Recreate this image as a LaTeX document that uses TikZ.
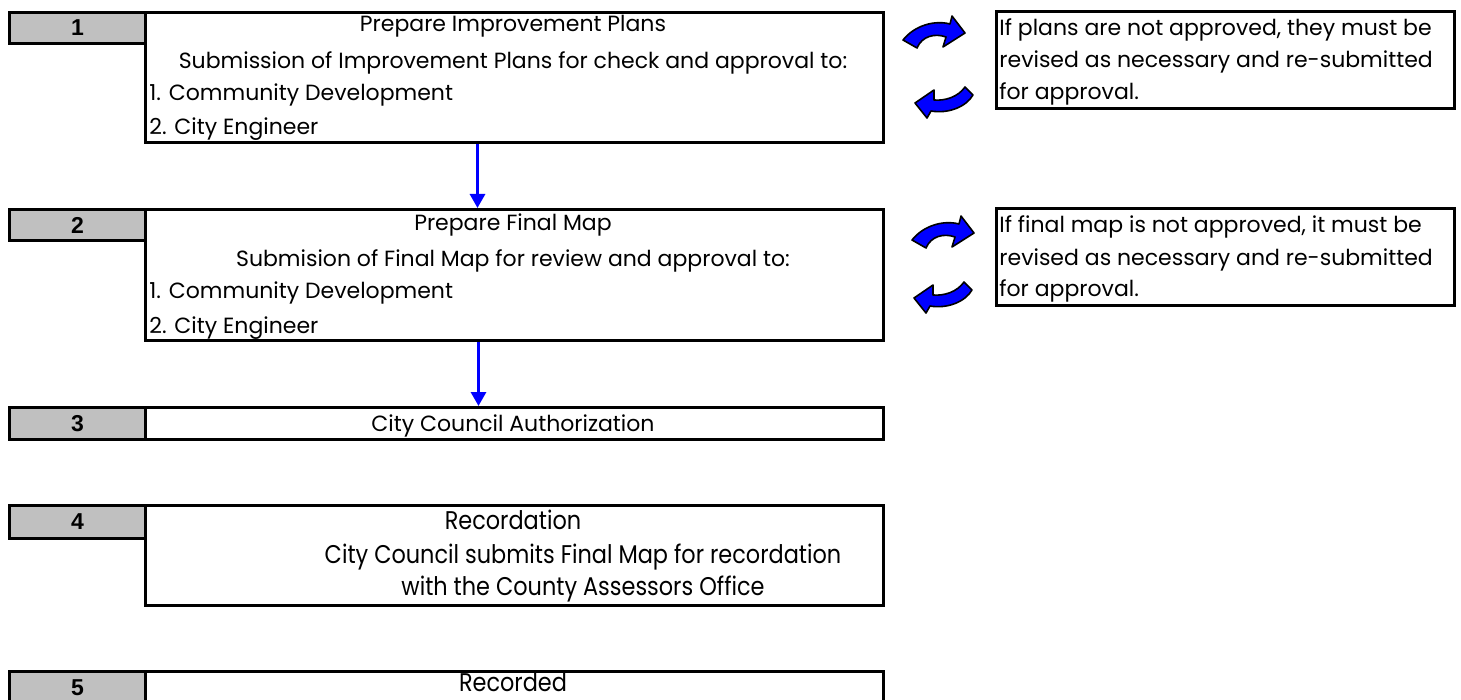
\documentclass[tikz,border=0pt]{standalone}
\usepackage{fontspec}
\setmainfont{Poppins}
\newfontfamily\numfont{Liberation Sans}
\newfontfamily\condfont{Poppins}[FakeStretch=0.875]
\usetikzlibrary{positioning,arrows.meta,calc}
\definecolor{numgray}{RGB}{192,192,192}
\definecolor{flowblue}{RGB}{0,0,255}
\tikzset{
  numbox/.style={draw=black, line width=1.5pt, fill=numgray, anchor=north west,
    minimum width=68pt, inner sep=0pt},
  numtxt/.style={font=\numfont\bfseries\fontsize{11.5}{13}\selectfont},
  stepbox/.style={draw=black, line width=1.5pt, fill=white, anchor=north west,
    minimum width=369pt, inner sep=0pt},
  notebox/.style={draw=black, line width=1.5pt, anchor=north west,
    minimum width=229pt, minimum height=48.5pt, inner sep=0pt},
  txt/.style={anchor=base, inner sep=0pt, font=\fontsize{11}{13}\selectfont},
  ltxt/.style={txt, anchor=base west},
  ctxt/.style={txt, font=\condfont\fontsize{12.8}{15}\selectfont},
  flow/.style={draw=flowblue, line width=1.5pt, -{Triangle[width=7.5pt,length=7pt]}},
  loop/.style={fill=flowblue, draw=black, line width=0.8pt, line join=round},
  % curved arrows beside the steps
  turnover/.pic={
    \path[loop] (0,0) .. controls (12,-15) and (32,-20) .. (47,-16) -- (49,-24)
      -- (62,-7) -- (40,7) -- (43,-3) .. controls (32,-7) and (19,-4) .. (14,8) -- cycle;
  },
  turnback/.pic={
    \path[loop] (0,0) -- (-8,-8) .. controls (-15,2) and (-28,6) .. (-39,5) -- (-39,-5)
      -- (-58,8) -- (-46,23) -- (-42,16) .. controls (-25,19) and (-7,12) .. (0,0) -- cycle;
  }
}
\begin{document}
\begin{tikzpicture}[x=0.5pt, y=-0.5pt]
    \useasboundingbox (0,0) rectangle (1461,700);
    \clip (0,0) rectangle (1461,700);
    %
    % step boxes
    \node[stepbox, minimum height=65pt]   (s1) at (144,11)  {};
    \node[stepbox, minimum height=65.5pt] (s2) at (144,208) {};
    \node[stepbox, minimum height=16pt]   (s3) at (144,406) {};
    \node[stepbox, minimum height=50pt]   (s4) at (144,504) {};
    \node[stepbox, minimum height=20pt]   (s5) at (144,670) {};
    \node[numbox, minimum height=15.5pt] (n1) at (8,11)  {};
    \node[numbox, minimum height=15.5pt] (n2) at (8,208) {};
    \node[numbox, minimum height=16pt]   (n3) at (8,406) {};
    \node[numbox, minimum height=16.5pt] (n4) at (8,504) {};
    \node[numbox, minimum height=16pt]   (n5) at (8,670) {};
    \node[numtxt] at (n1) {1};
    \node[numtxt] at (n2) {2};
    \node[numtxt] at (n3) {3};
    \node[numtxt] at (n4) {4};
    \node[numtxt] at (n5) {5};
    %
    % step 1
    \node[txt]  (t1) at (513,32)  {Prepare Improvement Plans};
    \node[txt]  (t1a) at (513,69) {Submission of Improvement Plans for check and approval to:};
    \node[ltxt] (t1b) at (149,101) {1. Community Development};
    \node[ltxt] (t1c) at (149,135) {2. City Engineer};
    % step 2
    \node[txt]  (t2) at (513,231)  {Prepare Final Map};
    \node[txt]  (t2a) at (513,266) {Submision of Final Map for review and approval to:};
    \node[ltxt] (t2b) at (149,299) {1. Community Development};
    \node[ltxt] (t2c) at (149,333) {2. City Engineer};
    % step 3
    \node[txt]  (t3) at (513,431) {City Council Authorization};
    % step 4
    \node[ctxt] (t4) at (513,529)  {Recordation};
    \node[ctxt] (t4a) at (583,563) {City Council submits Final Map for recordation};
    \node[ctxt] (t4b) at (583,595) {with the County Assessors Office};
    % step 5
    \node[ctxt] (t5) at (513,691) {Recorded};
    %
    \draw[flow] ([xshift=-18.5pt]s1.south) -- ([xshift=-18.5pt]s2.north);
    \draw[flow] ([xshift=-18pt]s2.south) -- ([xshift=-18pt]s3.north);
    %
    % notes
    \node[notebox] (m1) at (995,10)  {};
    \node[notebox] (m2) at (995,207) {};
    \node[ltxt] at (999,36)  {If plans are not approved, they must be};
    \node[ltxt] at (999,68)  {revised as necessary and re-submitted};
    \node[ltxt] at (999,100) {for approval.};
    \node[ltxt] at (999,233) {If final map is not approved, it must be};
    \node[ltxt] at (999,265) {revised as necessary and re-submitted};
    \node[ltxt] at (999,297) {for approval.};
    \pic at (903,40)  {turnover};
    \pic at (973,95)  {turnback};
    \pic at (912,240) {turnover};
    \pic at (972,290) {turnback};
\end{tikzpicture}
\end{document}
